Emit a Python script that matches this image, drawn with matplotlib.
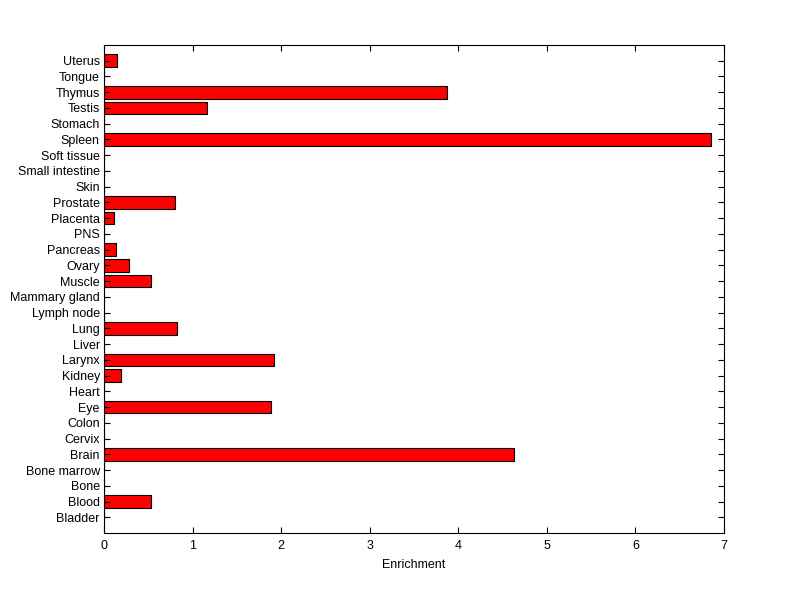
import matplotlib
matplotlib.use("Agg")
import matplotlib.pyplot as plt

categories = ["Bladder", "Blood", "Bone", "Bone marrow", "Brain", "Cervix", "Colon",
              "Eye", "Heart", "Kidney", "Larynx", "Liver", "Lung", "Lymph node",
              "Mammary gland", "Muscle", "Ovary", "Pancreas", "PNS", "Placenta",
              "Prostate", "Skin", "Small intestine", "Soft tissue", "Spleen",
              "Stomach", "Testis", "Thymus", "Tongue", "Uterus"]
enrichment = [0, 0.53, 0, 0, 4.624, 0, 0,
              1.883, 0, 0.192, 1.917, 0, 0.823, 0,
              0, 0.53, 0.282, 0.135, 0, 0.113,
              0.80, 0, 0, 0, 6.857,
              0, 1.162, 3.868, 0, 0.151]
xticks = [0, 1, 2, 3, 4, 5, 6, 7]

plt.rcParams['font.family'] = ['Liberation Sans', 'DejaVu Sans']
fig = plt.figure(figsize=(8, 5.99), dpi=100)
ax = fig.add_axes([0.13, 0.1102, 0.775, 0.8147])
pos = list(range(1, len(categories) + 1))
ax.barh(pos, enrichment, height=0.8, color='#ff0000', edgecolor='black', linewidth=0.8)
ax.set_ylim(0, len(categories) + 1)
ax.set_xlim(0, 7)
ax.set_yticks(pos)
ax.set_yticklabels(categories)
ax.set_xticks(xticks)
ax.set_xticklabels([str(t) for t in xticks])
ax.tick_params(direction='in', length=4.3, width=0.8, labelsize=9, top=True, right=True, pad=3)
ax.tick_params(axis='x', pad=5)
for s in ax.spines.values():
    s.set_linewidth(0.8)
ax.set_xlabel("Enrichment", fontsize=9, labelpad=5)
fig.savefig("out.png", dpi=100)
